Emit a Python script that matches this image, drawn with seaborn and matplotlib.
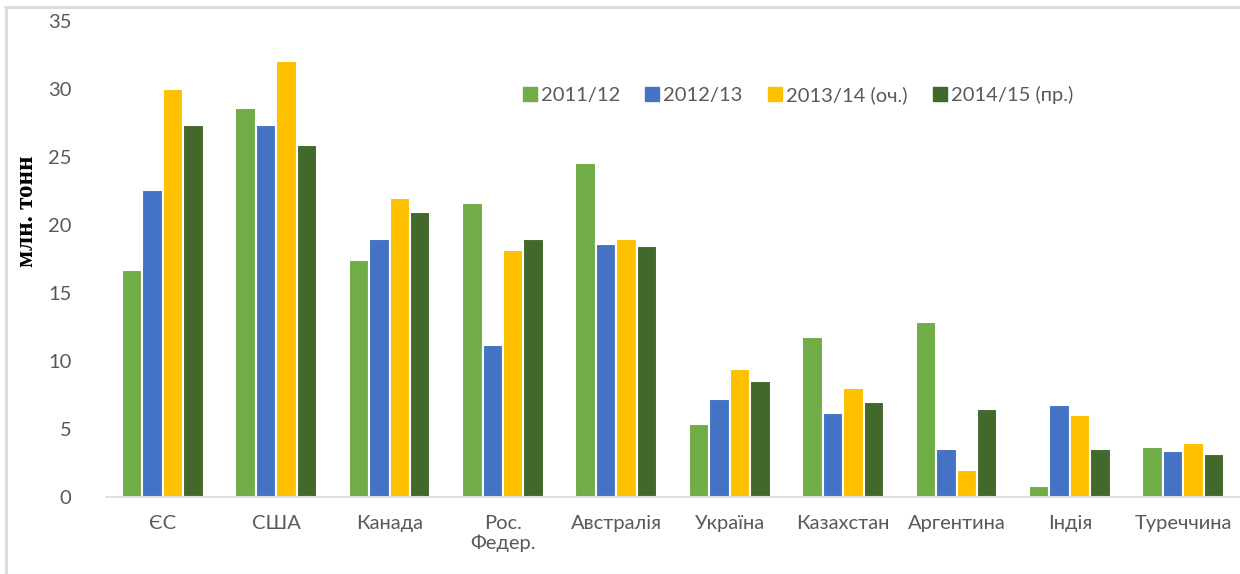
import pandas as pd
import matplotlib.pyplot as plt
import seaborn as sns
from matplotlib.lines import Line2D

# Data, mln tonnes
countries = ['ЄС', 'США', 'Канада', 'Рос.\nФедер.', 'Австралія', 'Україна',
             'Казахстан', 'Аргентина', 'Індія', 'Туреччина']
seasons = ['2011/12', '2012/13', '2013/14 (оч.)', '2014/15 (пр.)']
v_2011 = [16.7, 28.6, 17.4, 21.6, 24.6, 5.4, 11.8, 12.9, 0.8, 3.7]
v_2012 = [22.6, 27.4, 19.0, 11.2, 18.6, 7.2, 6.2, 3.5, 6.8, 3.4]
v_2013 = [30.0, 32.1, 22.0, 18.2, 19.0, 9.4, 8.0, 2.0, 6.0, 4.0]
v_2014 = [27.4, 25.9, 21.0, 19.0, 18.5, 8.5, 7.0, 6.5, 3.5, 3.2]
colors = ['#70AD47', '#4472C4', '#FFC000', '#43682B']

df = pd.DataFrame({
    'Країна': countries * 4,
    'Сезон': [s for s in seasons for _ in countries],
    'Значення': v_2011 + v_2012 + v_2013 + v_2014,
})

sns.set_style('white')
plt.rcParams['font.family'] = ['Lato', 'DejaVu Sans']

fig = plt.figure(figsize=(12.4, 5.74), dpi=100)
ax = fig.add_axes([0.0855, 0.1341, 0.9145, 0.829])

sns.barplot(data=df, x='Країна', y='Значення', hue='Сезон', hue_order=seasons,
            order=countries, palette=colors, saturation=1, width=0.72,
            edgecolor='white', linewidth=1.5, ax=ax)

ax.set_ylim(0, 35)
ax.set_yticks(range(0, 36, 5))
ax.set_xlim(-0.5, len(countries) - 0.5)
ax.tick_params(axis='y', length=0, pad=25, labelsize=14.5, labelcolor='#595959')
ax.tick_params(axis='x', length=0, pad=13, labelsize=14.5, labelcolor='#595959')
for side in ['top', 'right', 'left']:
    ax.spines[side].set_visible(False)
ax.spines['bottom'].set_color('#D9D9D9')
ax.spines['bottom'].set_linewidth(1.2)
ax.set_xlabel('')
ax.set_ylabel('млн. тонн', fontsize=18, fontweight='bold', family='Liberation Serif',
              color='black', labelpad=0)
ax.yaxis.set_label_coords(-0.060, 0.6)

handles = [plt.Rectangle((0, 0), 1, 1, color=c) for c in colors]
leg = ax.legend(handles, seasons, loc='center', bbox_to_anchor=(0.610, 0.845), ncol=4,
                frameon=False, fontsize=14.5, handlelength=0.7, handleheight=0.7,
                handletextpad=0.2, columnspacing=1.25)
for t in leg.get_texts():
    t.set_color('#595959')

# chart frame (top and left edges visible in the reference)
fig.add_artist(Line2D([0.004, 1.0], [0.987, 0.987], color='#D9D9D9', lw=2))
fig.add_artist(Line2D([0.005, 0.005], [0.0, 0.987], color='#D9D9D9', lw=2))

fig.savefig('out.png', dpi=100)
